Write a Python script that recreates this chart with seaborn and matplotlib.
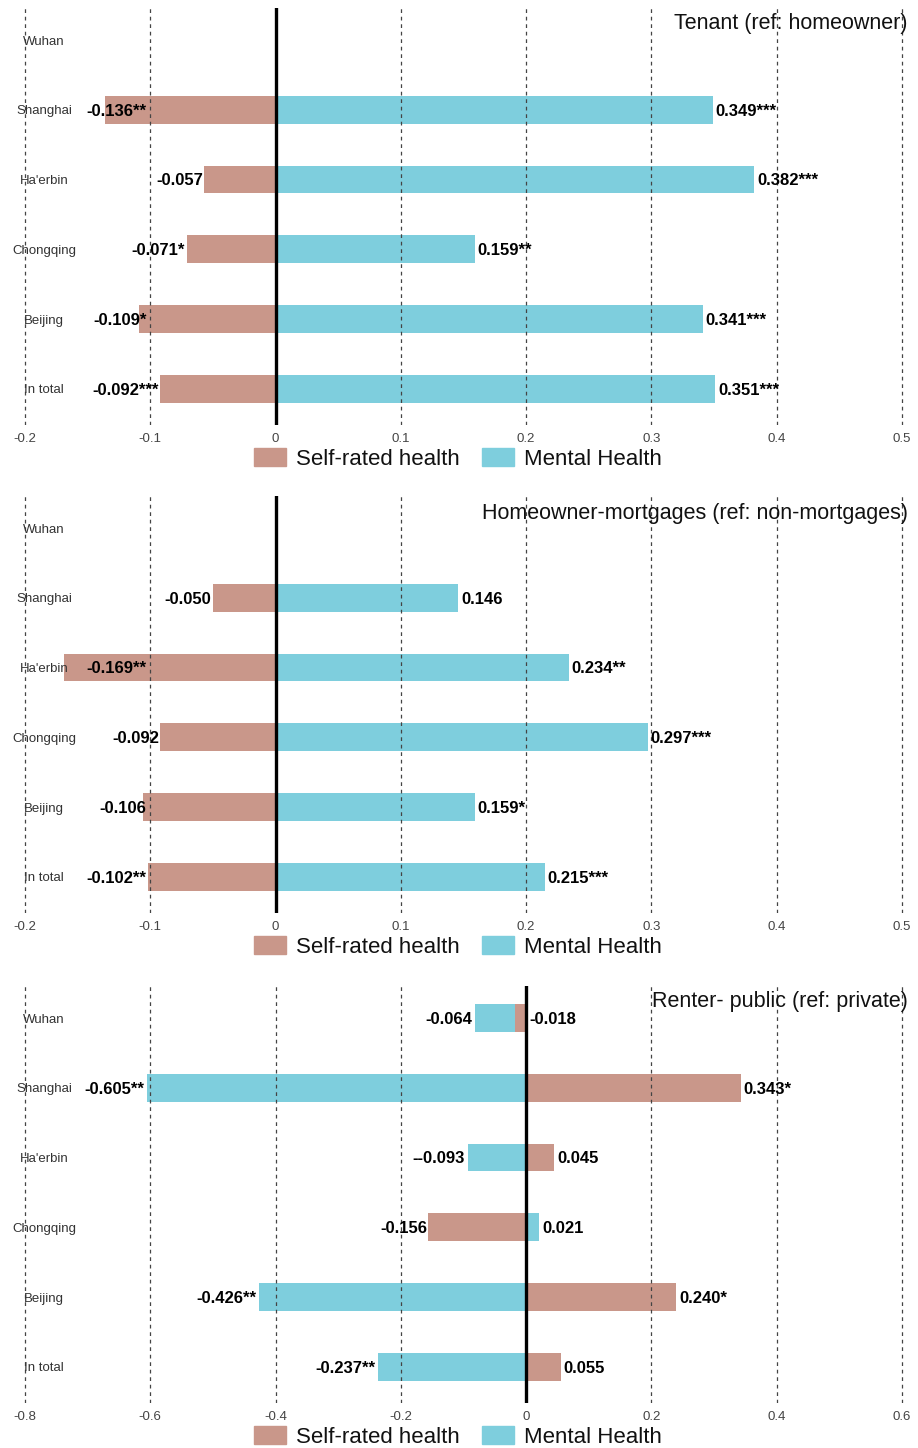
import numpy as np
import pandas as pd
import matplotlib
matplotlib.use('Agg')
import matplotlib.pyplot as plt
import seaborn as sns
from matplotlib.ticker import MultipleLocator, FuncFormatter
from matplotlib.patches import Patch

plt.rcParams['font.family'] = ['Liberation Sans', 'DejaVu Sans']

cities = ['Wuhan', 'Shanghai', "Ha'erbin", 'Chongqing', 'Beijing', 'In total']

# Tenant (ref: homeowner)
tenant_self = [np.nan, -0.136, -0.057, -0.071, -0.109, -0.092]
tenant_mental = [np.nan, 0.349, 0.382, 0.159, 0.341, 0.351]
tenant_self_lab = ['', '-0.136**', '-0.057', '-0.071*', '-0.109*', '-0.092***']
tenant_mental_lab = ['', '0.349***', '0.382***', '0.159**', '0.341***', '0.351***']

# Homeowner-mortgages (ref: non-mortgages)
mort_self = [np.nan, -0.050, -0.169, -0.092, -0.106, -0.102]
mort_mental = [np.nan, 0.146, 0.234, 0.297, 0.159, 0.215]
mort_self_lab = ['', '-0.050', '-0.169**', '-0.092', '-0.106', '-0.102**']
mort_mental_lab = ['', '0.146', '0.234**', '0.297***', '0.159*', '0.215***']

# Renter- public (ref: private)
rent_self = [-0.018, 0.343, 0.045, -0.156, 0.240, 0.055]
rent_mental = [-0.064, -0.605, -0.093, 0.021, -0.426, -0.237]
rent_self_lab = ['-0.018', '0.343*', '0.045', '-0.156', '0.240*', '0.055']
rent_mental_lab = ['-0.064', '-0.605**', '--0.093', '0.021', '-0.426**', '-0.237**']

titles = ['Tenant (ref: homeowner)',
          'Homeowner-mortgages (ref: non-mortgages)',
          'Renter- public (ref: private)']

c_self = '#C9978A'
c_mental = '#7ECEDD'

W, H = 918, 1448


def fmt(v, pos):
    v = round(v, 3)
    if abs(v) < 1e-9:
        return '0'
    return '%g' % v


def panel(ax, self_v, mental_v, self_lab, mental_lab, title, xlim, step, clamp, title_off):
    df = pd.DataFrame({'city': cities, 'self': self_v, 'mental': mental_v})
    same = np.sign(df['self']) == np.sign(df['mental'])
    # stack the mental bar onto self-rated bar when both have the same sign
    df['mental_end'] = np.where(same, df['mental'] + df['self'], df['mental'])

    sns.barplot(data=df, y='city', x='mental_end', order=cities, color=c_mental,
                width=0.4, orient='h', saturation=1, errorbar=None, ax=ax)
    sns.barplot(data=df, y='city', x='self', order=cities, color=c_self,
                width=0.4, orient='h', saturation=1, errorbar=None, ax=ax)

    ax.axvline(0, color='black', lw=2.4, zorder=3)
    ax.set_xlim(xlim)
    ax.set_ylim(5.52, -0.46)
    ax.xaxis.set_major_locator(MultipleLocator(step))
    ax.xaxis.set_major_formatter(FuncFormatter(fmt))
    ax.grid(axis='x', linestyle=(0, (3, 3)), color='#444444', lw=0.9)
    ax.grid(axis='y', visible=False)
    for s in ax.spines.values():
        s.set_visible(False)
    ax.set_xlabel('')
    ax.set_ylabel('')
    ax.tick_params(axis='x', length=0, pad=6, labelsize=9.5, labelcolor='#444444')
    ax.tick_params(axis='y', length=0, pad=-31.7, labelsize=9.5, labelcolor='#333333')
    for lab in ax.get_yticklabels():
        lab.set_ha('center')

    for i in range(len(cities)):
        s, m, me = df['self'][i], df['mental'][i], df['mental_end'][i]
        if not np.isnan(m):
            if me >= 0:
                ax.annotate(mental_lab[i], (me, i), xytext=(2, -1), textcoords='offset points',
                            ha='left', va='center', fontsize=12, fontweight='bold')
            else:
                ax.annotate(mental_lab[i], (me, i), xytext=(-2, -1), textcoords='offset points',
                            ha='right', va='center', fontsize=12, fontweight='bold')
        if not np.isnan(s):
            if s >= 0 or (same[i] and s < 0):
                x0 = s if s >= 0 else 0
                ax.annotate(self_lab[i], (x0, i), xytext=(2, -1), textcoords='offset points',
                            ha='left', va='center', fontsize=12, fontweight='bold')
            else:
                ax.annotate(self_lab[i], (max(s, clamp), i), xytext=(-1, -1), textcoords='offset points',
                            ha='right', va='center', fontsize=12, fontweight='bold')

    ax.text(0.989, 1 - title_off / 417, title, ha='right', va='center',
            transform=ax.transAxes, fontsize=15.5, color='#111111')

    handles = [Patch(color=c_self, label='Self-rated health'),
               Patch(color=c_mental, label='Mental Health')]
    leg = ax.legend(handles=handles, loc='center', bbox_to_anchor=(0.499, -34 / 417),
                    ncol=2, frameon=False, handlelength=1.45, handleheight=0.85,
                    handletextpad=0.45, columnspacing=1.0,
                    prop={'size': 16})
    for t in leg.get_texts():
        t.set_color('#111111')


fig = plt.figure(figsize=(W / 100, H / 100), dpi=100)
tops = [8, 496, 986]
axh = 417
axes = [fig.add_axes([0, 1 - (t + axh) / H, 1, axh / H]) for t in tops]

xl12 = (-0.2 - 25 / 1253, 0.5 + 16 / 1253)
xl3 = (-0.8 - 25 / 627, 0.6 + 16 / 627)

panel(axes[0], tenant_self, tenant_mental, tenant_self_lab, tenant_mental_lab,
      titles[0], xl12, 0.1, -0.102, 16)
panel(axes[1], mort_self, mort_mental, mort_self_lab, mort_mental_lab,
      titles[1], xl12, 0.1, -0.102, 17)
panel(axes[2], rent_self, rent_mental, rent_self_lab, rent_mental_lab,
      titles[2], xl3, 0.2, -1.0, 15)

fig.savefig('out.png', dpi=100)
